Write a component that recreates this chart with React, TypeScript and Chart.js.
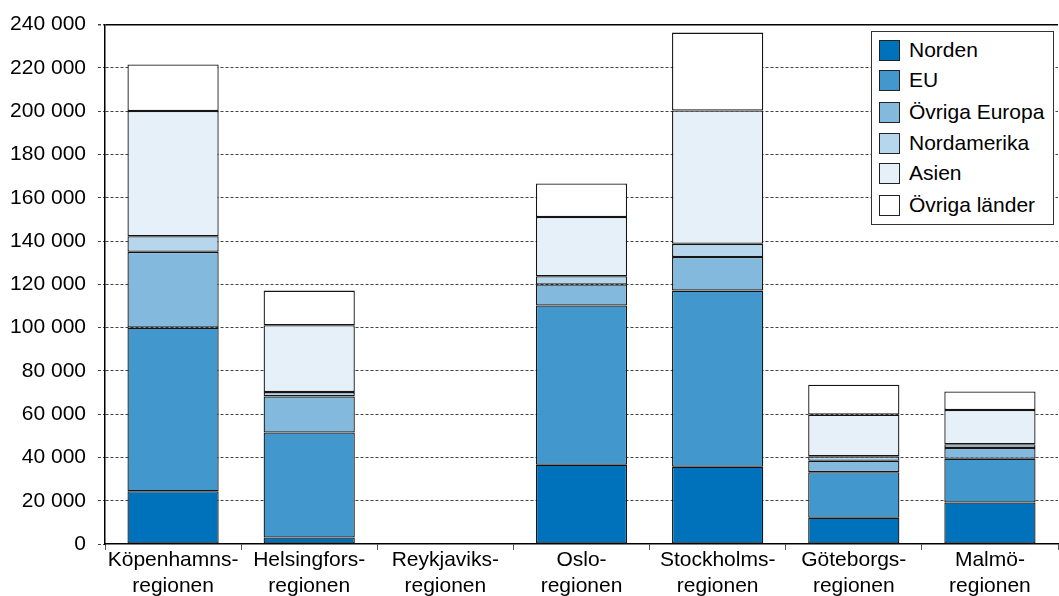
import React, { useEffect, useRef } from "react";
import { Chart, registerables } from "chart.js";

Chart.register(...registerables);

const categories: string[][] = [
  ["Köpenhamns-", "regionen"],
  ["Helsingfors-", "regionen"],
  ["Reykjaviks-", "regionen"],
  ["Oslo-", "regionen"],
  ["Stockholms-", "regionen"],
  ["Göteborgs-", "regionen"],
  ["Malmö-", "regionen"],
];

const seriesNames = ["Norden", "EU", "Övriga Europa", "Nordamerika", "Asien", "Övriga länder"];
const seriesColors = ["#0072bb", "#4298cd", "#84b9de", "#b5d6ec", "#e6f0f9", "#ffffff"];

const norden = [24400, 3000, null, 36600, 35700, 12100, 19200];
const eu = [75600, 48500, null, 73600, 81400, 21100, 20200];
const ovrigaEuropa = [35000, 16700, null, 9700, 15500, 5300, 5000];
const nordamerika = [7200, 2000, null, 3800, 6100, 2000, 1700];
const asien = [57900, 30900, null, 27400, 61600, 19300, 15800];
const ovrigaLander = [21500, 16000, null, 15500, 36000, 13800, 8600];

const seriesValues = [norden, eu, ovrigaEuropa, nordamerika, asien, ovrigaLander];

const yMin = 0;
const yMax = 240000;
const yStep = 20000;

const FONT = "'Liberation Sans', Arial, sans-serif";

function fmt(v: number): string {
  return String(Math.round(v)).replace(/\B(?=(\d{3})+(?!\d))/g, " ");
}

export default function App() {
  const canvasRef = useRef<HTMLCanvasElement | null>(null);

  useEffect(() => {
    const canvas = canvasRef.current;
    if (!canvas) return;
    const chart = new Chart(canvas, {
      type: "bar",
      data: {
        labels: categories,
        datasets: seriesNames.map((name, i) => ({
          label: name,
          data: seriesValues[i],
          backgroundColor: seriesColors[i],
          borderColor: "#151515",
          borderWidth: 1.3,
          borderSkipped: false,
          barPercentage: 0.67,
          categoryPercentage: 1,
        })),
      },
      options: {
        responsive: false,
        animation: false,
        maintainAspectRatio: false,
        layout: { padding: { top: 22, right: 1, left: 0, bottom: 0 } },
        plugins: {
          legend: { display: false },
          tooltip: { enabled: false },
        },
        scales: {
          x: {
            stacked: true,
            offset: true,
            grid: {
              display: true,
              drawOnChartArea: false,
              offset: true,
              tickLength: 6,
              color: "#555",
              lineWidth: 1,
            },
            border: { display: true, color: "#000", width: 1.5 },
            ticks: {
              color: "#000",
              font: { family: FONT, size: 21, lineHeight: 1.2 },
              padding: -2,
              maxRotation: 0,
              autoSkip: false,
            },
            afterFit: (scale: any) => {
              scale.height = 52;
            },
          },
          y: {
            stacked: true,
            min: yMin,
            max: yMax,
            grid: {
              color: (ctx: any) => {
                const v = ctx.tick ? ctx.tick.value : 0;
                if (v === 0) return "rgba(0,0,0,0)";
                if (v === yMax) return "#000";
                return "#444";
              },
              lineWidth: (ctx: any) => (ctx.tick && ctx.tick.value === yMax ? 1.5 : 1),
              tickColor: "#444",
              tickLength: 7,
              tickBorderDash: [3, 2],
            },
            border: {
              display: true,
              color: "#000",
              width: 1.5,
              dash: (ctx: any) => (ctx.tick && ctx.tick.value === yMax ? [] : [3, 2]),
            },
            ticks: {
              stepSize: yStep,
              color: "#000",
              padding: 12,
              font: { family: FONT, size: 21 },
              callback: (v: any) => fmt(Number(v)),
            },
            afterFit: (scale: any) => {
              scale.width = 105;
            },
          },
        },
      },
    } as any);
    return () => chart.destroy();
  }, []);

  const legendTops = [39, 69, 101, 132, 162, 194];

  return (
    <div
      style={{
        position: "absolute",
        left: 0,
        top: 0,
        width: 1059,
        height: 596,
        background: "#fff",
        fontFamily: FONT,
      }}
    >
      <canvas
        ref={canvasRef}
        width={1059}
        height={596}
        style={{ width: 1059, height: 596, display: "block" }}
      />
      <div
        style={{
          position: "absolute",
          left: 871,
          top: 31,
          width: 183,
          height: 194,
          border: "1px solid #333",
          background: "#fff",
          boxSizing: "border-box",
        }}
      >
        {seriesNames.map((name, i) => (
          <div
            key={name}
            style={{
              position: "absolute",
              left: 7,
              top: legendTops[i] - 31 - 1,
              height: 22,
              display: "flex",
              alignItems: "center",
              whiteSpace: "nowrap",
            }}
          >
            <div
              style={{
                width: 21,
                height: 21,
                boxSizing: "border-box",
                border: "1px solid #222",
                background: seriesColors[i],
                marginRight: 9,
              }}
            />
            <span style={{ fontSize: 21, color: "#000", lineHeight: "22px" }}>{name}</span>
          </div>
        ))}
      </div>
    </div>
  );
}
